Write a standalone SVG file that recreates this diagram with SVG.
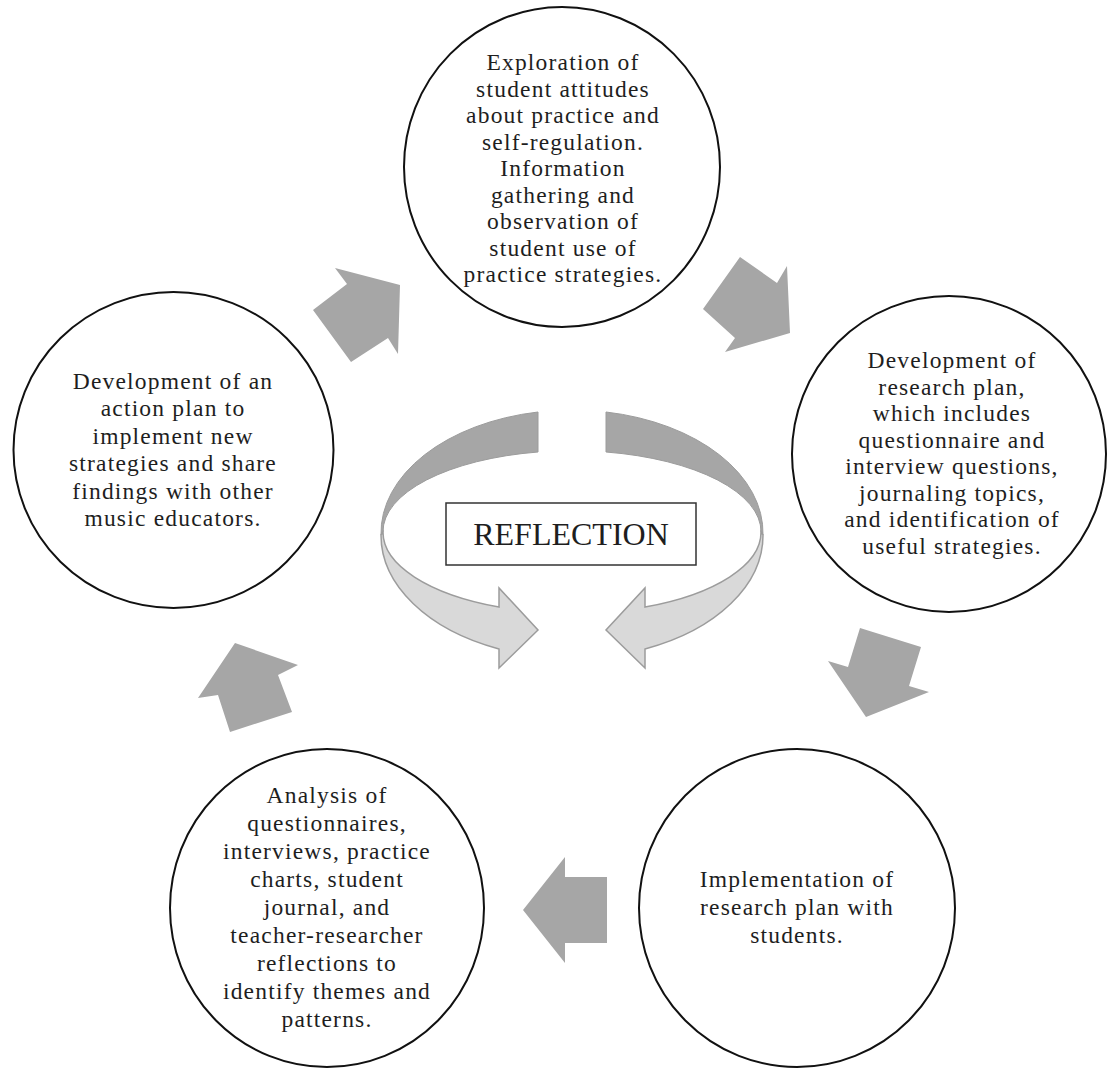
<svg xmlns="http://www.w3.org/2000/svg" xmlns:xlink="http://www.w3.org/1999/xlink" width="1108" height="1072" viewBox="0 0 1108 1072">
<style>
.node ellipse{fill:#fff;stroke:#111;stroke-width:2}
.node text{font-family:"Liberation Serif","Times New Roman",serif;font-size:23.5px;letter-spacing:1.2px;fill:#1e1e1e;text-anchor:middle}
.blk{fill:#a6a6a6;stroke:none}
.dark{fill:#a6a6a6;stroke:#9c9c9c;stroke-width:1}
.light{fill:#d9d9d9;stroke:#9c9c9c;stroke-width:1.5}
.refl rect{fill:#fff;stroke:#333;stroke-width:1.5}
.refl text{font-family:"Liberation Serif","Times New Roman",serif;font-size:32px;fill:#1e1e1e;text-anchor:middle}
</style>
<defs>
<g id="curl">
<path class="dark" d="M538,412 A191,123 0 0 0 381,535 L383,532 A189,81 0 0 1 538,452 Z"/>
<path class="light" d="M381,535 A191,123 0 0 0 499,649 L499,668 L538,630 L499,588 L499,607 A189,81 0 0 1 383,532 Z"/>
</g>
</defs>
<rect width="1108" height="1072" fill="#fff"/>
<g id="connectors">
<polygon class="blk" points="400,285 335,268 347,284 313,310 351,362 388,338 398,354"/>
<polygon class="blk" points="790,333 787,266 777,283 740,257 703,309 735,338 725,352"/>
<polygon class="blk" points="866,717 929,692 909,686 921,647 860,628 848,667 828,661"/>
<polygon class="blk" points="523,910 565,857 565,877 607,877 607,943 565,943 565,963"/>
<polygon class="blk" points="235,643 298,665 278,675 292,712 230,732 218,695 198,698"/>
<use xlink:href="#curl"/>
<use xlink:href="#curl" transform="translate(1144,0) scale(-1,1)"/>
</g>
<g id="node-exploration" class="node">
<ellipse cx="562" cy="167" rx="158" ry="160"/>
<text x="563" y="70">Exploration of</text>
<text x="563" y="96.5">student attitudes</text>
<text x="563" y="123">about practice and</text>
<text x="563" y="149.5">self-regulation.</text>
<text x="563" y="176">Information</text>
<text x="563" y="202.5">gathering and</text>
<text x="563" y="229">observation of</text>
<text x="563" y="255.5">student use of</text>
<text x="563" y="282">practice strategies.</text>
</g>
<g id="node-research-plan" class="node">
<ellipse cx="949" cy="454" rx="157" ry="158"/>
<text x="952" y="368">Development of</text>
<text x="952" y="394.5">research plan,</text>
<text x="952" y="421">which includes</text>
<text x="952" y="447.5">questionnaire and</text>
<text x="952" y="474">interview questions,</text>
<text x="952" y="500.5">journaling topics,</text>
<text x="952" y="527">and identification of</text>
<text x="952" y="553.5">useful strategies.</text>
</g>
<g id="node-implementation" class="node">
<ellipse cx="797" cy="908" rx="158" ry="159"/>
<text x="797" y="887">Implementation of</text>
<text x="797" y="915">research plan with</text>
<text x="797" y="943">students.</text>
</g>
<g id="node-analysis" class="node">
<ellipse cx="327" cy="908" rx="157" ry="159"/>
<text x="327" y="803">Analysis of</text>
<text x="327" y="831">questionnaires,</text>
<text x="327" y="859">interviews, practice</text>
<text x="327" y="887">charts, student</text>
<text x="327" y="915">journal, and</text>
<text x="327" y="943">teacher-researcher</text>
<text x="327" y="971">reflections to</text>
<text x="327" y="999">identify themes and</text>
<text x="327" y="1027">patterns.</text>
</g>
<g id="node-action-plan" class="node">
<ellipse cx="173.5" cy="450" rx="160" ry="158"/>
<text x="173" y="389">Development of an</text>
<text x="173" y="416.4">action plan to</text>
<text x="173" y="443.8">implement new</text>
<text x="173" y="471.2">strategies and share</text>
<text x="173" y="498.6">findings with other</text>
<text x="173" y="526">music educators.</text>
</g>
<g id="node-reflection" class="refl">
<rect x="446" y="503" width="250" height="62"/>
<text x="571" y="545">REFLECTION</text>
</g>
</svg>
